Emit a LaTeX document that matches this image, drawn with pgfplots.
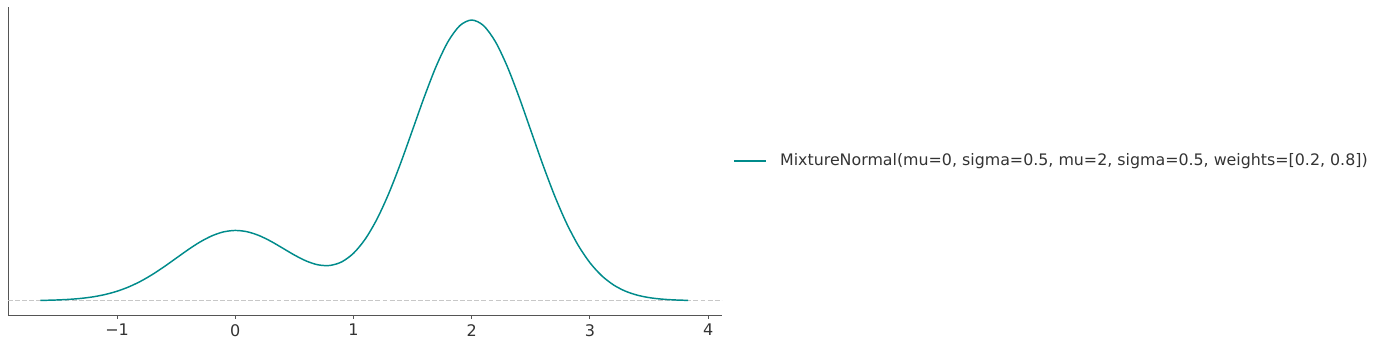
\documentclass[border=0pt]{standalone}
\usepackage{pgfplots}
\pgfplotsset{compat=1.18}
\usepackage{fontspec}
\setmainfont{DejaVu Sans}
\definecolor{teal1}{RGB}{0,139,139}
\definecolor{spine}{RGB}{85,85,85}
\definecolor{txt}{RGB}{51,51,51}
\definecolor{dashgray}{RGB}{200,200,200}
\begin{document}
\begin{tikzpicture}
\fontsize{12}{14}\selectfont
\begin{axis}[
  scale only axis,
  width=535.3pt, height=231pt,
  xmin=-1.923, xmax=4.115, ymin=-0.0325, ymax=0.668,
  axis x line*=bottom, axis y line*=left,
  axis line style={spine, line width=0.75pt, -},
  ytick=\empty,
  xtick={-1,0,1,2,3,4},
  xticklabels={−1,0,1,2,3,4},
  tick align=outside,
  major tick length=2.8pt,
  tick style={spine, line width=0.75pt},
  ticklabel style={font=\fontsize{12}{14}\selectfont, text=txt},
  legend style={at={(1,0.5)}, anchor=west, draw=none, fill=none,
    font=\fontsize{11.88}{14}\selectfont, text=txt, xshift=5.5pt},
  legend cell align=left,
  legend image code/.code={\draw[#1, line width=1.1pt] (0pt,0pt) -- (24pt,0pt);},
  clip=false,
]
\addplot[dashgray, line width=1.1pt, dash pattern=on 3.7pt off 1.6pt, forget plot] coordinates {(-1.923,0) (4.115,0)};
\addplot[teal1, line width=1.1pt, smooth] coordinates {
(-1.65,0.000689) (-1.6,0.000954) (-1.5,0.001773) (-1.4,0.003166) (-1.3,0.005433)
(-1.2,0.008958) (-1.1,0.014190) (-1.0,0.021597) (-0.9,0.031580) (-0.8,0.044368)
(-0.7,0.059891) (-0.6,0.077674) (-0.5,0.096789) (-0.4,0.115877) (-0.3,0.133290)
(-0.2,0.147308) (-0.1,0.156511) (0.0,0.159791) (0.1,0.156884) (0.2,0.148287)
(0.3,0.135262) (0.4,0.119692) (0.5,0.103880) (0.6,0.090339) (0.7,0.081624)
(0.8,0.080199) (0.9,0.088340) (1.0,0.107982) (1.1,0.140510) (1.2,0.186432)
(1.3,0.244997) (1.4,0.313864) (1.5,0.388927) (1.6,0.464462) (1.7,0.533653)
(1.8,0.589477) (1.9,0.625786) (2.0,0.638362) (2.1,0.625693) (2.2,0.589242)
(2.3,0.533160) (2.4,0.463508) (2.5,0.387154) (2.6,0.310698) (2.7,0.239564)
(2.8,0.177474) (2.9,0.126320) (3.0,0.086385) (3.1,0.056760) (3.2,0.035831)
(3.3,0.021733) (3.4,0.012665) (3.5,0.007091) (3.6,0.003815) (3.7,0.001972)
(3.8,0.000979) (3.83,0.000787)
};
\addlegendentry{\hspace{8pt}MixtureNormal(mu=0, sigma=0.5, mu=2, sigma=0.5, weights=[0.2, 0.8])}
\end{axis}
\pgfresetboundingbox
\path[use as bounding box] (current axis.south west) ++(-6pt,-24pt) rectangle ++(1034.25pt,260.25pt);
\end{tikzpicture}
\end{document}
